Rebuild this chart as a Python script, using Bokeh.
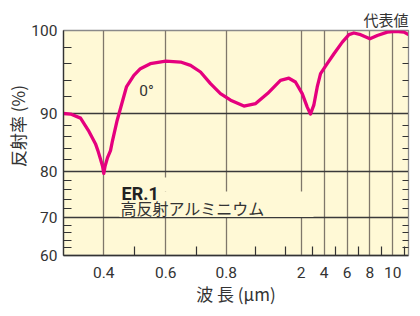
import numpy as np
from bokeh.plotting import figure
from bokeh.models import FixedTicker, LinearAxis, Label, Range1d
from bokeh.embed import file_html
from bokeh.resources import INLINE

# ---- data (wavelength in um, reflectance in %) ----
wavelength_um = [0.27, 0.293, 0.325, 0.35, 0.373, 0.381, 0.389, 0.396, 0.4, 0.404,
                 0.412, 0.4216, 0.428, 0.443, 0.473, 0.497, 0.518, 0.55, 0.6, 0.649,
                 0.682, 0.715, 0.748, 0.781, 0.815, 0.86, 0.9, 0.94, 0.984, 1.23,
                 1.64, 2.09, 2.52, 2.81, 3.1, 3.4, 3.69, 4.27, 4.86, 5.59,
                 6.17, 6.6, 7.19, 8.0, 8.65, 9.52, 10.25, 10.97, 11.37]
reflectance = [90.0, 89.9, 89.2, 87.1, 84.8, 83.6, 82.2, 80.9, 79.6, 80.9,
               82.4, 83.6, 85.3, 88.8, 93.2, 94.6, 95.4, 96.0, 96.3, 96.2,
               95.8, 95.0, 93.6, 92.4, 91.6, 90.9, 91.2, 92.4, 94.0, 94.25,
               93.8, 92.4, 90.8, 89.9, 91.0, 93.2, 94.8, 96.0, 97.2, 98.6,
               99.5, 99.7, 99.5, 99.0, 99.4, 99.8, 99.9, 99.8, 99.5]

x_major_um = [0.4, 0.6, 0.8, 2, 4, 6, 8, 10]
x_major_labels = ["0.4", "0.6", "0.8", "2", "4", "6", "8", "10"]
x_minor_um = [0.5, 0.7, 0.9, 1.0, 3, 5, 7, 9, 11]
y_major = [60, 70, 80, 90, 100]
y_minor = [62, 64, 66, 68, 72, 74, 76, 78, 82, 84, 86, 88, 92, 94, 96, 98]

# ---- the chart's non-uniform axis scales (piecewise) ----
X_SCALE_UM = [0.27, 0.4, 0.6, 0.8, 1.0, 2.0, 10.0, 11.37]
X_SCALE_U = [0.0, 40.3, 102.3, 162.7, 221.7, 237.7, 329.3, 345.0]
Y_SCALE_R = [60, 70, 80, 90, 100]
Y_SCALE_V = [0.0, 38.0, 84.0, 142.0, 225.0]


def fx(v):
    return np.round(np.interp(np.asarray(v, dtype=float), X_SCALE_UM, X_SCALE_U), 2)


def fy(v):
    return np.round(np.interp(np.asarray(v, dtype=float), Y_SCALE_R, Y_SCALE_V), 2)


BG = "#FFF9D6"
CURVE = "#E5007E"
DARK = "#333333"
GRIDV = "#7f776a"
GRIDH = "#3a3a3a"

p = figure(width=412, height=308, output_backend="svg", toolbar_location=None,
           x_range=Range1d(0, 345), y_range=Range1d(0, 225),
           min_border_left=63, min_border_right=4, min_border_top=30, min_border_bottom=53)
p.background_fill_color = BG
p.border_fill_color = "white"
p.outline_line_color = "#8a8a8a"
p.outline_line_width = 1.3

p.title.text = "代表値"
p.title.align = "right"
p.title.text_font = "Noto Sans CJK JP"
p.title.text_font_size = "15px"
p.title.text_font_style = "normal"
p.title.text_color = DARK
p.title.standoff = 1

xt = [float(v) for v in fx(x_major_um)]
xm = [float(v) for v in fx(x_minor_um)]
yt = [float(v) for v in fy(y_major)]
ym = [float(v) for v in fy(y_minor)]

xticker = FixedTicker(ticks=xt, minor_ticks=xm)
yticker = FixedTicker(ticks=yt, minor_ticks=ym)

xa = p.xaxis[0]
xa.ticker = xticker
xa.major_label_overrides = {t: s for t, s in zip(xt, x_major_labels)}
xa.major_tick_in = 0
xa.major_tick_out = 0
xa.minor_tick_in = 9
xa.minor_tick_out = 0
xa.minor_tick_line_color = DARK
xa.minor_tick_line_width = 1.2
xa.axis_line_color = DARK
xa.axis_line_width = 1.3
xa.major_label_standoff = 11
xa.major_label_text_font = "Roboto"
xa.major_label_text_font_size = "15.5px"
xa.major_label_text_color = DARK
xa.axis_label = "波 長 (μm)"
xa.axis_label_standoff = 0
xa.axis_label_text_font = "Noto Sans CJK JP"
xa.axis_label_text_font_size = "17px"
xa.axis_label_text_font_style = "normal"
xa.axis_label_text_color = DARK

ya = p.yaxis[0]
ya.ticker = yticker
ya.major_label_overrides = {t: str(s) for t, s in zip(yt, y_major)}
ya.major_tick_in = 0
ya.major_tick_out = 0
ya.minor_tick_in = 8
ya.minor_tick_out = 0
ya.minor_tick_line_color = DARK
ya.minor_tick_line_width = 1.2
ya.axis_line_color = DARK
ya.axis_line_width = 1.3
ya.major_label_standoff = 6
ya.major_label_text_font = "Roboto"
ya.major_label_text_font_size = "15.5px"
ya.major_label_text_color = DARK
ya.axis_label = "\u3000\u3000反射率 (%)"
ya.axis_label_standoff = -2
ya.axis_label_text_font = "Noto Sans CJK JP"
ya.axis_label_text_font_size = "17px"
ya.axis_label_text_font_style = "normal"
ya.axis_label_text_color = DARK

ra = LinearAxis(ticker=yticker)
ra.major_label_overrides = {t: "" for t in yt}
ra.major_label_text_font_size = "0px"
ra.major_label_standoff = 0
ra.major_tick_in = 0
ra.major_tick_out = 0
ra.minor_tick_in = 6
ra.minor_tick_out = 0
ra.minor_tick_line_color = DARK
ra.minor_tick_line_width = 1.2
ra.axis_line_color = "#8a8a8a"
p.add_layout(ra, "right")

p.xgrid.ticker = xticker
p.xgrid.grid_line_color = GRIDV
p.xgrid.grid_line_width = 1.3
p.ygrid.ticker = yticker
p.ygrid.grid_line_color = GRIDH
p.ygrid.grid_line_width = 1.3

# background patches behind the caption (hide grid lines there)
p.quad(left=[56, 56], right=[150, 250], bottom=[64, 38.5], top=[78, 64],
       fill_color=BG, line_color=None)

p.line(fx(wavelength_um), fy(reflectance), line_color=CURVE, line_width=3.3,
       line_join="round", line_cap="round")

p.add_layout(Label(x=83, y=165, x_units="screen", y_units="screen", text="0°",
                   text_align="center", text_baseline="middle",
                   text_font="Roboto", text_font_size="15.5px", text_color=DARK))
p.add_layout(Label(x=58, y=62, x_units="screen", y_units="screen", text="ER.1",
                   text_align="left", text_baseline="alphabetic",
                   text_font="Roboto", text_font_style="bold", text_font_size="18px",
                   text_color="#222222"))
p.add_layout(Label(x=57, y=48, x_units="screen", y_units="screen", text="高反射アルミニウム",
                   text_align="left", text_baseline="middle",
                   text_font="Noto Sans CJK JP", text_font_size="16px", text_color=DARK))

open("out.html", "w").write(file_html(p, INLINE))
